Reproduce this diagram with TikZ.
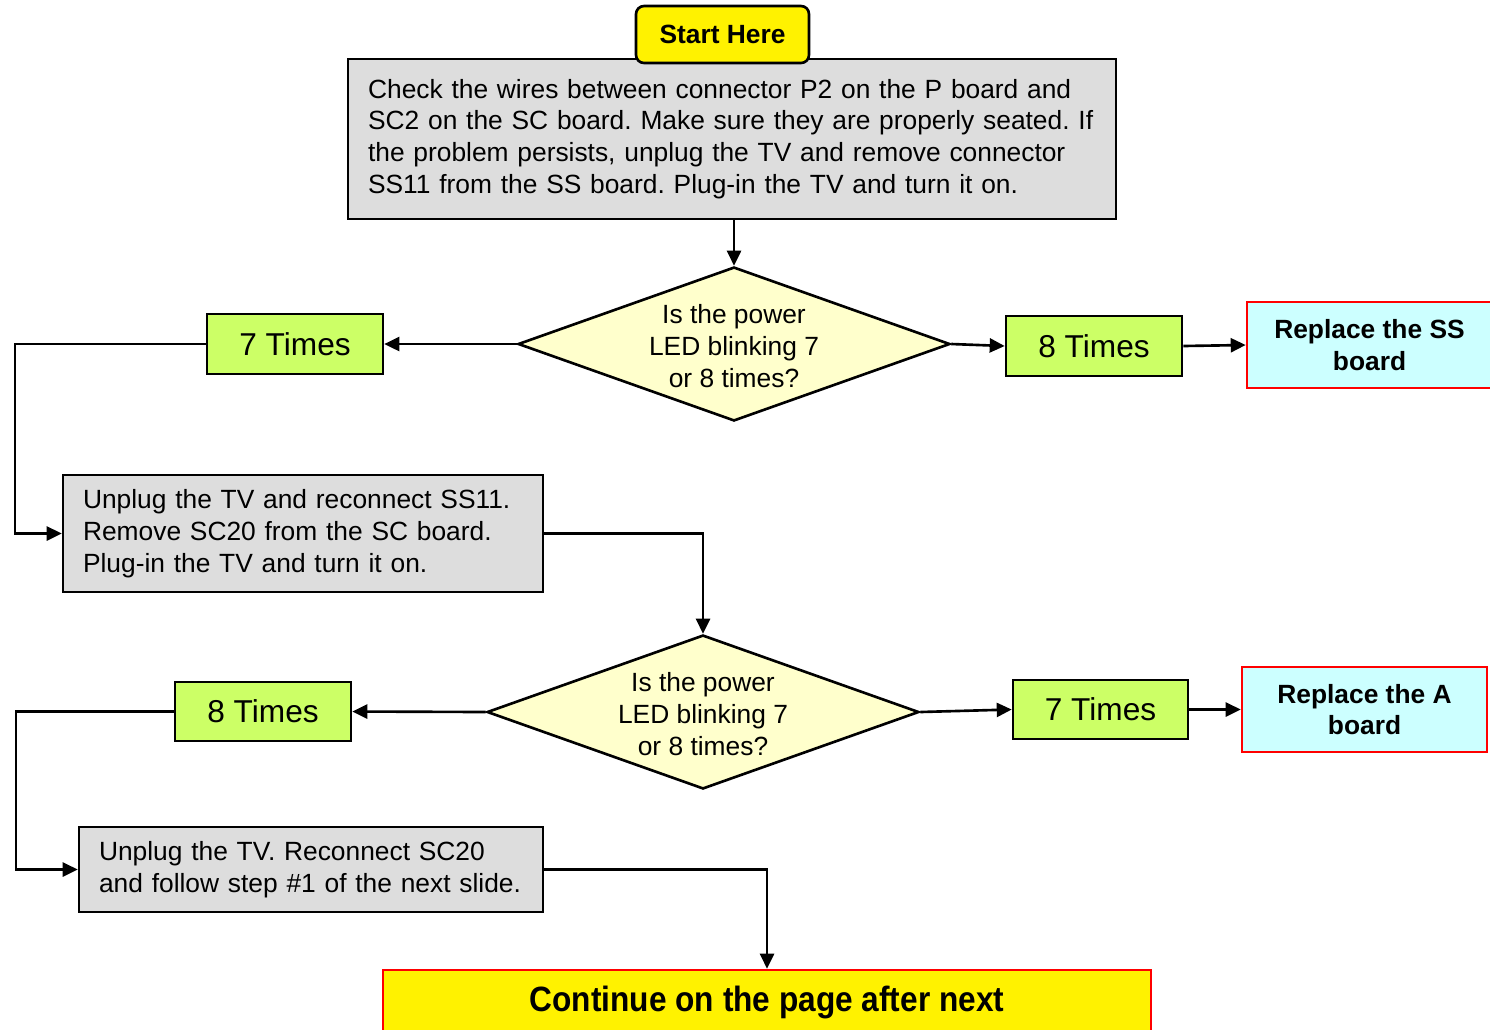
\documentclass[tikz,border=0pt]{standalone}
\usepackage{fontspec}
\setmainfont{Liberation Sans}
\usetikzlibrary{shapes.geometric,arrows.meta}
\definecolor{boxgray}{HTML}{DDDDDD}
\definecolor{timesgreen}{HTML}{CCFF66}
\definecolor{replacecyan}{HTML}{CCFFFF}
\definecolor{askyellow}{HTML}{FFFFCC}
\frenchspacing
\begin{document}
\begin{tikzpicture}[x=0.02cm,y=-0.02cm,line width=1.5pt,
        node font=\fontsize{15}{18.1}\selectfont,
        stepbox/.style={draw,fill=boxgray,align=left,inner xsep=0.4cm,anchor=center},
        ask/.style={draw,fill=askyellow,diamond,inner sep=0pt,minimum width=8.64cm,minimum height=3.08cm},
        times/.style={draw,fill=timesgreen,minimum width=3.52cm,minimum height=1.2cm,font=\fontsize{18}{21}\selectfont},
        replace/.style={draw=red,fill=replacecyan,align=center,minimum width=4.9cm,minimum height=1.72cm,font=\bfseries},
        go/.style={-{Triangle[length=0.3cm,width=0.28cm]}}]
    \useasboundingbox (0,0) rectangle (1490,1029);
    \node [stepbox,minimum width=15.36cm,minimum height=3.2cm,text width=14.56cm] (check) at (732,139)
        {Check the wires between connector P2 on the P board and\\
         SC2 on the SC board. Make sure they are properly seated. If\\
         the problem persists, unplug the TV and remove connector\\
         SS11 from the SS board. Plug-in the TV and turn it on.};
    \node [draw,fill=yellow,rounded corners=0.16cm,minimum width=3.46cm,minimum height=1.14cm,font=\bfseries] (start) at (722.5,34.5) {Start Here};
    \node [ask] (q1) at (734,344) {};
    \node [align=center] (q1text) at (734,346) {Is the power\\LED blinking 7\\or 8 times?};
    \node [times] (sevenA) at (295,344) {7 Times};
    \node [times] (eightA) at (1094,346) {8 Times};
    \node [replace] (replaceSS) at (1369.5,345) {Replace the SS\\board};
    \node [stepbox,minimum width=9.6cm,minimum height=2.34cm,text width=8.8cm] (unplugA) at (303,533.5)
        {Unplug the TV and reconnect SS11.\\
         Remove SC20 from the SC board.\\
         Plug-in the TV and turn it on.};
    \node [ask] (q2) at (703,712) {};
    \node [align=center] (q2text) at (703,714) {Is the power\\LED blinking 7\\or 8 times?};
    \node [times,minimum height=1.18cm] (eightB) at (263,711.5) {8 Times};
    \node [times,minimum height=1.18cm,minimum width=3.5cm] (sevenB) at (1100.5,709.5) {7 Times};
    \node [replace,minimum height=1.7cm] (replaceA) at (1364.5,709.5) {Replace the A\\board};
    \node [stepbox,minimum width=9.28cm,minimum height=1.7cm,text width=8.48cm] (unplugB) at (311,869.5)
        {Unplug the TV. Reconnect SC20\\
         and follow step \#1 of the next slide.};
    \node [draw=red,fill=yellow,minimum width=15.36cm,minimum height=1.28cm,font=\fontsize{20}{24}\selectfont\bfseries] (cont) at (767,1002)
        {\scalebox{0.9}[1]{Continue on the page after next}};
    \coordinate (leftA) at (15,0);
    \coordinate (leftB) at (16,0);
    \draw [go] (check.south -| q1) -- (q1.north);
    \draw [go] (q1.west) -- (sevenA.east);
    \draw [go] (q1.east) -- (eightA.west);
    \draw [go] (eightA.east) -- (replaceSS.west);
    \draw [go] (sevenA.west) -- (sevenA.west -| leftA) |- (unplugA.west);
    \draw [go] (unplugA.east) -| (q2.north);
    \draw [go] (q2.west) -- (eightB.east);
    \draw [go] (q2.east) -- (sevenB.west);
    \draw [go] (sevenB.east) -- (replaceA.west);
    \draw [go] (eightB.west) -- (eightB.west -| leftB) |- (unplugB.west);
    \draw [go] (unplugB.east) -| (cont.north);
\end{tikzpicture}
\end{document}
